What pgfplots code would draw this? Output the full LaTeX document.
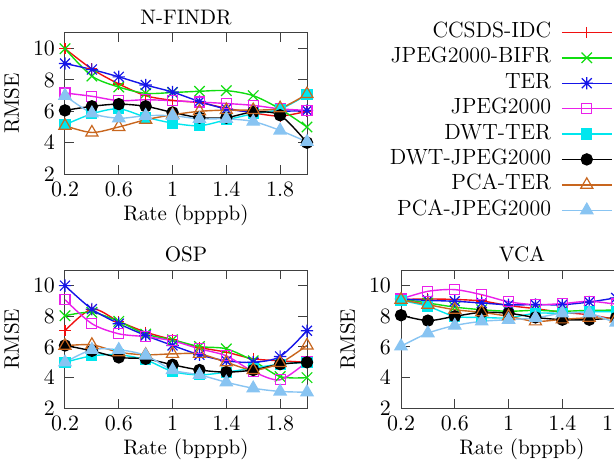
\documentclass[border=0pt]{standalone}
\usepackage{pgfplots}
\pgfplotsset{compat=1.18}
\definecolor{cA}{HTML}{F01010}
\definecolor{cB}{HTML}{10DD10}
\definecolor{cC}{HTML}{1515E8}
\definecolor{cD}{HTML}{EA20EA}
\definecolor{cE}{HTML}{00E6EE}
\definecolor{cF}{HTML}{000000}
\definecolor{cG}{HTML}{C8661E}
\definecolor{cH}{HTML}{88C4F2}
\pgfdeclareplotmark{gstar}{%
 \pgfpathmoveto{\pgfqpoint{-\pgfplotmarksize}{0pt}}\pgfpathlineto{\pgfqpoint{\pgfplotmarksize}{0pt}}%
 \pgfpathmoveto{\pgfqpoint{0pt}{-\pgfplotmarksize}}\pgfpathlineto{\pgfqpoint{0pt}{\pgfplotmarksize}}%
 \pgfpathmoveto{\pgfqpoint{-.8\pgfplotmarksize}{-.8\pgfplotmarksize}}\pgfpathlineto{\pgfqpoint{.8\pgfplotmarksize}{.8\pgfplotmarksize}}%
 \pgfpathmoveto{\pgfqpoint{-.8\pgfplotmarksize}{.8\pgfplotmarksize}}\pgfpathlineto{\pgfqpoint{.8\pgfplotmarksize}{-.8\pgfplotmarksize}}%
 \pgfusepathqstroke}
\newcommand\tfont{\fontsize{10.5}{12}\selectfont}
\pgfplotsset{
 myax/.style={scale only axis, width=121pt,
  xmin=0.2, xmax=2.0, ymin=2, ymax=11,
  xtick={0.2,0.6,1,1.4,1.8}, ytick={2,4,6,8,10},
  tick align=inside, tick pos=both, major tick length=4.5pt,
  axis line style={black!75, line width=0.5pt},
  every tick/.style={black!75, line width=0.5pt},
  tick label style={font=\tfont},
  label style={font=\tfont},
  title style={font=\tfont, at={(axis description cs:0.5,1)}, anchor=base, yshift=-1.6pt},
  xlabel={Rate (bpppb)}, ylabel={RMSE},
  xlabel style={at={(axis description cs:0.5,0)}, anchor=base, yshift=-23pt},
  ylabel style={at={(axis description cs:-0.22,0.5)}, anchor=center},
  xticklabel style={yshift=-0.5pt},
  yticklabel style={xshift=-1.5pt},
  every axis plot/.append style={line width=0.7pt, smooth, mark options={solid, line width=0.6pt}},
  legend image code/.code={\draw[mark repeat=2,mark phase=2,##1] plot coordinates {(0pt,0pt) (12.5pt,0pt) (25pt,0pt)};},
 },
 sA/.style={color=cA, mark=+, mark size=2.8pt},
 sB/.style={color=cB, mark=x, mark size=3.7pt},
 sC/.style={color=cC, mark=gstar, mark size=3.1pt},
 sD/.style={color=cD, mark=square, mark size=2.5pt},
 sE/.style={color=cE, mark=square*, mark size=2.5pt},
 sF/.style={color=cF, mark=*, mark size=2.8pt},
 sG/.style={color=cG, mark=triangle, mark size=3.5pt},
 sH/.style={color=cH, mark=triangle*, mark size=3.5pt},
}
\begin{document}
\begin{tikzpicture}[x=1pt,y=1pt]
\useasboundingbox (0,0) rectangle (307,233.5);
\clip (0,0) rectangle (307,233.5);
% N-FINDR
\begin{axis}[myax, at={(32.5pt,146.5pt)}, anchor=south west, height=70.5pt, title={N-FINDR},
  legend plot pos=right, legend cell align=right,
  legend style={draw=none, fill=none, at={(2.264,1.085)}, anchor=north east, inner sep=0pt,
    row sep=1.7pt, column sep=5pt, font=\fontsize{11}{13}\selectfont,
    nodes={inner sep=0pt, text height=8pt, text depth=3pt}}]
\addplot[sA] coordinates {(0.2,10)(0.4,8.7)(0.6,7.75)(0.8,7.0)(1.0,6.7)(1.2,6.55)(1.4,6.2)(1.6,5.9)(1.8,5.7)(2.0,6.0)};
\addplot[sB] coordinates {(0.2,10)(0.4,8.25)(0.6,7.55)(0.8,7.15)(1.0,7.2)(1.2,7.28)(1.4,7.32)(1.6,7.0)(1.8,6.15)(2.0,5.0)};
\addplot[sC] coordinates {(0.2,9.05)(0.4,8.67)(0.6,8.2)(0.8,7.68)(1.0,7.23)(1.2,6.63)(1.4,6.15)(1.6,5.97)(1.8,6.0)(2.0,6.05)};
\addplot[sD] coordinates {(0.2,7.17)(0.4,6.96)(0.6,6.68)(0.8,6.74)(1.0,6.68)(1.2,6.59)(1.4,6.5)(1.6,6.38)(1.8,6.16)(2.0,6.06)};
\addplot[sE] coordinates {(0.2,5.14)(0.4,5.84)(0.6,6.16)(0.8,5.63)(1.0,5.25)(1.2,5.08)(1.4,5.46)(1.6,5.84)(1.8,6.14)(2.0,7.06)};
\addplot[sF] coordinates {(0.2,6.06)(0.4,6.32)(0.6,6.46)(0.8,6.32)(1.0,5.93)(1.2,5.6)(1.4,5.6)(1.6,5.95)(1.8,5.75)(2.0,4.0)};
\addplot[sG] coordinates {(0.2,5.08)(0.4,4.65)(0.6,5.0)(0.8,5.46)(1.0,5.78)(1.2,6.0)(1.4,6.08)(1.6,6.08)(1.8,6.2)(2.0,7.1)};
\addplot[sH] coordinates {(0.2,7.0)(0.4,5.88)(0.6,5.56)(0.8,5.72)(1.0,5.72)(1.2,5.52)(1.4,5.52)(1.6,5.35)(1.8,4.78)(2.0,4.05)};
\legend{CCSDS-IDC, JPEG2000-BIFR, TER, JPEG2000, DWT-TER, DWT-JPEG2000, PCA-TER, PCA-JPEG2000}
\end{axis}
% OSP
\begin{axis}[myax, at={(32.5pt,29.35pt)}, anchor=south west, height=69pt, title={OSP}]
\addplot[sA] coordinates {(0.2,7.06)(0.4,8.47)(0.6,7.67)(0.8,6.97)(1.0,6.47)(1.2,5.97)(1.4,5.66)(1.6,5.23)(1.8,5.1)(2.0,5.0)};
\addplot[sB] coordinates {(0.2,8.04)(0.4,8.26)(0.6,7.67)(0.8,6.84)(1.0,6.47)(1.2,6.03)(1.4,5.88)(1.6,5.1)(1.8,4.07)(2.0,4.0)};
\addplot[sC] coordinates {(0.2,10.0)(0.4,8.47)(0.6,7.52)(0.8,6.75)(1.0,6.1)(1.2,5.49)(1.4,5.1)(1.6,5.0)(1.8,5.38)(2.0,7.06)};
\addplot[sD] coordinates {(0.2,9.08)(0.4,7.52)(0.6,6.86)(0.8,6.67)(1.0,6.4)(1.2,5.88)(1.4,5.42)(1.6,4.4)(1.8,3.86)(2.0,5.05)};
\addplot[sE] coordinates {(0.2,5.0)(0.4,5.42)(0.6,5.49)(0.8,5.16)(1.0,4.4)(1.2,4.18)(1.4,4.36)(1.6,4.62)(1.8,4.88)(2.0,5.0)};
\addplot[sF] coordinates {(0.2,6.1)(0.4,5.75)(0.6,5.32)(0.8,5.23)(1.0,4.84)(1.2,4.5)(1.4,4.36)(1.6,4.5)(1.8,4.88)(2.0,5.0)};
\addplot[sG] coordinates {(0.2,6.08)(0.4,6.14)(0.6,5.66)(0.8,5.49)(1.0,5.55)(1.2,5.55)(1.4,5.0)(1.6,4.5)(1.8,4.95)(2.0,6.1)};
\addplot[sH] coordinates {(0.2,5.0)(0.4,5.82)(0.6,5.82)(0.8,5.45)(1.0,4.5)(1.2,4.18)(1.4,3.7)(1.6,3.31)(1.8,3.1)(2.0,3.05)};
\end{axis}
% VCA
\begin{axis}[myax, at={(200.5pt,29.35pt)}, anchor=south west, height=69pt, title={VCA}]
\addplot[sA] coordinates {(0.2,9.1)(0.4,9.13)(0.6,9.1)(0.8,9.0)(1.0,8.7)(1.2,8.5)(1.4,8.26)(1.6,8.1)(1.8,7.8)(2.0,7.6)};
\addplot[sB] coordinates {(0.2,9.13)(0.4,8.87)(0.6,8.6)(0.8,8.43)(1.0,8.33)(1.2,8.39)(1.4,8.33)(1.6,8.39)(1.8,8.4)(2.0,8.4)};
\addplot[sC] coordinates {(0.2,9.13)(0.4,9.04)(0.6,8.98)(0.8,8.87)(1.0,8.75)(1.2,8.76)(1.4,8.76)(1.6,8.93)(1.8,9.2)(2.0,9.4)};
\addplot[sD] coordinates {(0.2,9.13)(0.4,9.63)(0.6,9.74)(0.8,9.41)(1.0,8.95)(1.2,8.76)(1.4,8.83)(1.6,8.98)(1.8,8.8)(2.0,8.7)};
\addplot[sE] coordinates {(0.2,9.04)(0.4,8.65)(0.6,8.0)(0.8,7.93)(1.0,7.9)(1.2,8.2)(1.4,8.2)(1.6,8.3)(1.8,8.3)(2.0,8.3)};
\addplot[sF] coordinates {(0.2,8.07)(0.4,7.72)(0.6,8.0)(0.8,8.26)(1.0,8.2)(1.2,7.93)(1.4,7.78)(1.6,7.78)(1.8,7.9)(2.0,7.9)};
\addplot[sG] coordinates {(0.2,9.08)(0.4,8.76)(0.6,8.43)(0.8,8.26)(1.0,8.0)(1.2,7.67)(1.4,7.8)(1.6,7.9)(1.8,7.85)(2.0,7.8)};
\addplot[sH] coordinates {(0.2,6.05)(0.4,6.9)(0.6,7.4)(0.8,7.67)(1.0,7.78)(1.2,7.9)(1.4,8.2)(1.6,8.2)(1.8,7.6)(2.0,7.5)};
\end{axis}
\end{tikzpicture}
\end{document}
